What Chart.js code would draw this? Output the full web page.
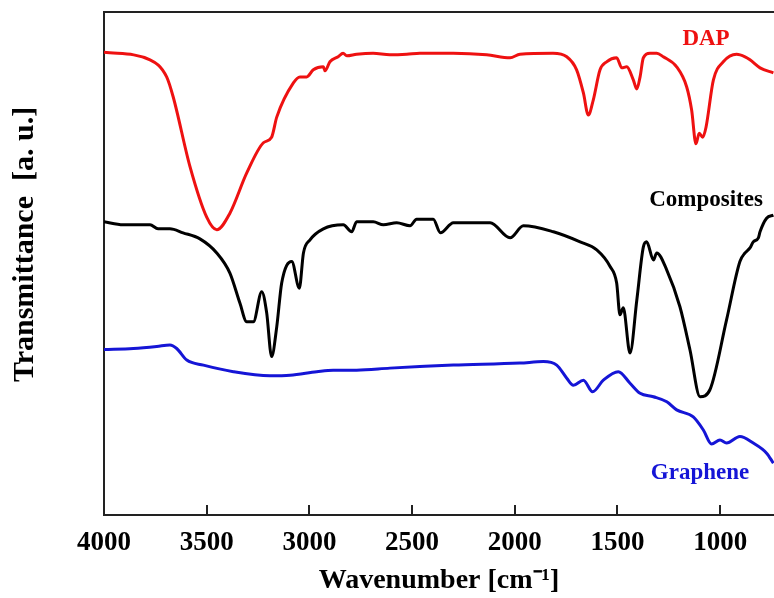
<!DOCTYPE html>
<html>
<head>
<meta charset="utf-8">
<title>FTIR spectra</title>
<script src="https://cdn.jsdelivr.net/npm/chart.js@4/dist/chart.umd.min.js"></script>
<style>
  html, body { margin: 0; padding: 0; background: #fff; }
  #wrap { width: 774px; height: 598px; }
</style>
</head>
<body>
<div id="wrap"><canvas id="ftir"></canvas></div>
<script>
// wavenumber (cm-1) / transmittance (a.u.) pairs for each sample
var dapWave = [4000, 3776, 3695, 3663, 3581, 3500, 3451, 3387, 3305, 3224, 3184, 3159, 3078, 3046, 3013, 2981, 2932, 2924, 2900, 2860, 2836, 2818, 2770, 2690, 2608, 2526, 2462, 2300, 2137, 2023, 1975, 1814, 1747, 1699, 1666, 1642, 1618, 1585, 1553, 1504, 1479, 1455, 1423, 1406, 1390, 1374, 1342, 1309, 1277, 1212, 1163, 1139, 1118, 1102, 1085, 1069, 1033, 985, 920, 879, 855, 806, 741];
var dapT = [92.0, 90.5, 87.1, 83.1, 69.2, 59.2, 56.7, 60.0, 68.0, 74.0, 75.1, 79.1, 85.9, 87.1, 87.1, 88.5, 89.1, 88.3, 90.1, 91.1, 91.8, 91.3, 91.6, 91.8, 91.5, 91.6, 91.8, 91.8, 91.5, 90.9, 91.6, 91.8, 91.1, 88.5, 83.9, 79.5, 82.5, 88.5, 90.1, 90.9, 88.9, 89.1, 86.5, 84.7, 87.1, 90.9, 91.8, 91.8, 91.1, 89.1, 85.1, 80.5, 73.8, 75.9, 75.1, 77.1, 86.5, 90.1, 91.6, 91.1, 90.5, 88.9, 87.9];

var compWave = [4000, 3907, 3776, 3737, 3679, 3615, 3533, 3451, 3387, 3338, 3305, 3273, 3232, 3208, 3184, 3159, 3135, 3086, 3049, 3029, 2997, 2932, 2835, 2794, 2770, 2689, 2640, 2575, 2510, 2478, 2397, 2362, 2299, 2250, 2120, 2023, 1958, 1812, 1682, 1601, 1536, 1504, 1488, 1472, 1439, 1406, 1374, 1358, 1325, 1309, 1260, 1196, 1147, 1098, 1050, 969, 904, 879, 855, 839, 814, 806, 774, 741];
var compT = [58.3, 57.7, 57.7, 56.9, 56.9, 56.1, 54.9, 52.1, 48.1, 42.1, 38.4, 38.4, 44.4, 40.2, 31.5, 37.4, 46.1, 50.4, 45.1, 52.1, 54.7, 56.9, 57.7, 56.3, 58.3, 58.3, 57.7, 58.1, 57.5, 58.8, 58.8, 56.1, 58.1, 58.1, 58.1, 55.1, 57.5, 56.3, 54.3, 52.7, 49.4, 46.1, 39.8, 41.2, 32.2, 42.7, 53.3, 54.3, 50.7, 52.1, 48.7, 41.4, 32.8, 23.5, 24.9, 38.8, 50.4, 52.1, 53.1, 54.3, 55.1, 56.3, 59.0, 59.6];

var grapWave = [4000, 3857, 3743, 3679, 3646, 3597, 3516, 3370, 3192, 3094, 2964, 2884, 2770, 2608, 2462, 2299, 1975, 1861, 1796, 1747, 1715, 1666, 1621, 1569, 1496, 1439, 1390, 1325, 1260, 1212, 1131, 1082, 1042, 1001, 969, 904, 839, 774, 741];
var grapT = [32.9, 33.1, 33.5, 33.8, 33.1, 30.8, 29.8, 28.5, 27.7, 27.8, 28.5, 28.8, 28.8, 29.2, 29.5, 29.8, 30.2, 30.5, 29.8, 27.2, 25.8, 26.8, 24.5, 26.8, 28.5, 26.2, 24.2, 23.5, 22.5, 20.9, 19.5, 16.9, 14.1, 14.9, 14.3, 15.6, 14.3, 12.3, 10.3];

var xTicks = [4000, 3500, 3000, 2500, 2000, 1500, 1000];

// curve names, placed next to each trace
var seriesNames = ['DAP', 'Composites', 'Graphene'];
var seriesColors = ['#ee1111', '#000000', '#1515d6'];
var nameAt = [[1069, 94.6], [1069, 62.6], [1098, 8.4]];

function pairs(xs, ys) {
    var out = [];
    for (var i = 0; i < xs.length; i++) out.push({x: xs[i], y: ys[i]});
    return out;
}

var serif = "'Liberation Serif', 'Times New Roman', serif";

var curveNames = {
    id: 'curveNames',
    afterDatasetsDraw: function (chart) {
        var ctx = chart.ctx, xs = chart.scales.x, ys = chart.scales.y;
        ctx.save();
        ctx.font = 'bold 23px ' + serif;
        ctx.textAlign = 'center';
        ctx.textBaseline = 'middle';
        for (var i = 0; i < seriesNames.length; i++) {
            ctx.fillStyle = seriesColors[i];
            ctx.fillText(seriesNames[i], xs.getPixelForValue(nameAt[i][0]), ys.getPixelForValue(nameAt[i][1]));
        }
        ctx.restore();
    }
};

// y axis caption, drawn a bit above the middle of the axis
var yCaption = {
    id: 'yCaption',
    afterDraw: function (chart) {
        var ctx = chart.ctx, area = chart.chartArea;
        ctx.save();
        ctx.translate(25, (area.top + area.bottom) / 2 - 19);
        ctx.rotate(-Math.PI / 2);
        ctx.font = 'bold 30px ' + serif;
        ctx.fillStyle = '#000';
        ctx.textAlign = 'center';
        ctx.textBaseline = 'middle';
        ctx.fillText('Transmittance  [a. u.]', 0, 0);
        ctx.restore();
    }
};

var datasets = [[dapWave, dapT], [compWave, compT], [grapWave, grapT]].map(function (s, i) {
    return {
        label: seriesNames[i],
        data: pairs(s[0], s[1]),
        borderColor: seriesColors[i],
        borderWidth: 3,
        pointRadius: 0,
        cubicInterpolationMode: 'monotone',
        fill: false
    };
});

new Chart(document.getElementById('ftir').getContext('2d'), {
    type: 'line',
    data: { datasets: datasets },
    plugins: [curveNames, yCaption],
    options: {
        responsive: true,
        maintainAspectRatio: false,
        animation: false,
        layout: { padding: 0 },
        plugins: { legend: { display: false }, tooltip: { enabled: false } },
        scales: {
            x: {
                type: 'linear',
                reverse: true,
                min: 738,
                max: 4000,
                position: 'bottom',
                afterBuildTicks: function (scale) {
                    scale.ticks = xTicks.map(function (v) { return {value: v}; });
                },
                afterFit: function (scale) { scale.height = 83; },
                border: { display: true, color: '#222', width: 2 },
                grid: { drawOnChartArea: false, drawTicks: true, tickLength: -10, color: '#222', lineWidth: 2 },
                ticks: {
                    color: '#000',
                    padding: 22,
                    maxRotation: 0,
                    callback: function (v) { return String(v); },
                    font: { family: serif, size: 27, weight: 'bold' }
                },
                title: {
                    display: true,
                    text: 'Wavenumber [cm\u207B\u00B9]',
                    color: '#000',
                    padding: { top: 0, bottom: 0 },
                    font: { family: serif, size: 28, weight: 'bold' }
                }
            },
            xTop: {
                type: 'linear',
                position: 'top',
                reverse: true,
                min: 738,
                max: 4000,
                afterFit: function (scale) { scale.height = 12; },
                border: { display: true, color: '#222', width: 2 },
                grid: { display: false },
                ticks: { display: false }
            },
            y: {
                min: 0,
                max: 100,
                afterFit: function (scale) { scale.width = 104; },
                border: { display: true, color: '#222', width: 2 },
                grid: { display: false },
                ticks: { display: false }
            }
        }
    }
});
</script>
</body>
</html>
